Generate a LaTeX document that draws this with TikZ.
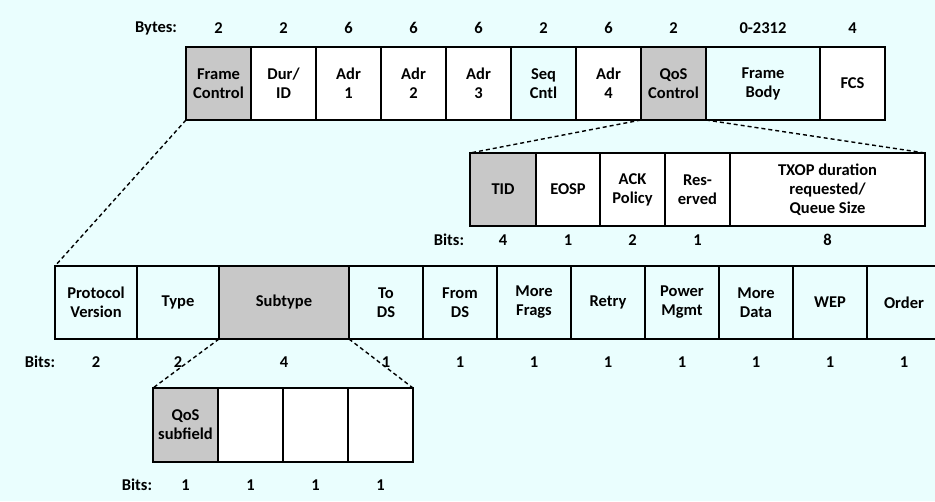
\documentclass[tikz,border=0pt]{standalone}
\usepackage{fontspec}
\setmainfont{Carlito}
\definecolor{pagebg}{RGB}{234,254,254}
\definecolor{hilite}{RGB}{200,200,200}
\tikzset{every node/.style={font=\bfseries\fontsize{16.5}{19}\selectfont},line cap=butt,line join=miter}
\tikzset{fld/.style={draw,line width=1.8pt,inner sep=0pt,outer sep=0pt,align=center,anchor=north west},
  wbox/.style={fld,fill=white},
  gbox/.style={fld,fill=hilite},
  cbox/.style={fld},
  zoomline/.style={line width=1.4pt,dash pattern=on 4pt off 3pt}}

\begin{document}
\begin{tikzpicture}[x=1pt,y=-1pt]
  \path[use as bounding box,fill=pagebg] (0,0) rectangle (935,501);
  % MAC frame
  \node[gbox,minimum width=65pt,minimum height=73pt] (fc) at (186,47) {Frame\\Control};
  \node[wbox,minimum width=65pt,minimum height=73pt] (dur) at (251,47) {Dur/\\ID};
  \node[wbox,minimum width=65pt,minimum height=73pt] (adra) at (316,47) {Adr\\1};
  \node[wbox,minimum width=65pt,minimum height=73pt] (adrb) at (381,47) {Adr\\2};
  \node[wbox,minimum width=65pt,minimum height=73pt] (adrc) at (446,47) {Adr\\3};
  \node[cbox,minimum width=65pt,minimum height=73pt] (seq) at (511,47) {Seq\\Cntl};
  \node[wbox,minimum width=65pt,minimum height=73pt] (adrd) at (576,47) {Adr\\4};
  \node[gbox,minimum width=65pt,minimum height=73pt] (qos) at (641,47) {QoS\\Control};
  \node[cbox,minimum width=114pt,minimum height=73pt] (body) at (706,47) {Frame\\Body};
  \node[wbox,minimum width=65pt,minimum height=73pt] (fcs) at (820,47) {FCS};
  \node (bytes) at (156,28) {Bytes:};
  \node (bfc) at (fc|-bytes) {2};
  \node (bdur) at (dur|-bytes) {2};
  \node (badra) at (adra|-bytes) {6};
  \node (badrb) at (adrb|-bytes) {6};
  \node (badrc) at (adrc|-bytes) {6};
  \node (bseq) at (seq|-bytes) {2};
  \node (badrd) at (adrd|-bytes) {6};
  \node (bqos) at (qos|-bytes) {2};
  \node (bbody) at (body|-bytes) {0-2312};
  \node (bfcs) at (fcs|-bytes) {4};
  % QoS control field
  \node[gbox,minimum width=66pt,minimum height=73pt] (tid) at (470,153) {TID};
  \node[wbox,minimum width=64pt,minimum height=73pt] (eosp) at (536,153) {EOSP};
  \node[wbox,minimum width=65pt,minimum height=73pt] (ack) at (600,153) {ACK\\Policy};
  \node[wbox,minimum width=65pt,minimum height=73pt] (res) at (665,153) {Res-\\erved};
  \node[wbox,minimum width=195pt,minimum height=73pt] (txop) at (730,153) {TXOP duration\\requested/\\Queue Size};
  \node (qbits) at (449,240) {Bits:};
  \node (qtid) at (tid|-qbits) {4};
  \node (qeosp) at (eosp|-qbits) {1};
  \node (qack) at (ack|-qbits) {2};
  \node (qres) at (res|-qbits) {1};
  \node (qtxop) at (txop|-qbits) {8};
  \draw[zoomline] (qos.south west) -- (tid.north west);
  \draw[zoomline] (qos.south east) -- (txop.north east);
  % frame control field
  \node[cbox,minimum width=82pt,minimum height=73pt] (pv) at (55,266) {Protocol\\Version};
  \node[cbox,minimum width=82pt,minimum height=73pt] (type) at (137,266) {Type};
  \node[gbox,minimum width=130pt,minimum height=73pt] (sub) at (219,266) {Subtype};
  \node[cbox,minimum width=74pt,minimum height=73pt] (tods) at (349,266) {To\\DS};
  \node[cbox,minimum width=74pt,minimum height=73pt] (fromds) at (423,266) {From\\DS};
  \node[cbox,minimum width=74pt,minimum height=73pt] (frags) at (497,266) {More\\Frags};
  \node[cbox,minimum width=74pt,minimum height=73pt] (retry) at (571,266) {Retry};
  \node[cbox,minimum width=74pt,minimum height=73pt] (pwr) at (645,266) {Power\\Mgmt};
  \node[cbox,minimum width=74pt,minimum height=73pt] (data) at (719,266) {More\\Data};
  \node[cbox,minimum width=74pt,minimum height=73pt] (wep) at (793,266) {WEP};
  \node[cbox,minimum width=74pt,minimum height=73pt] (order) at (867,266) {Order};
  \node (fbits) at (40,362) {Bits:};
  \node (fpv) at (pv|-fbits) {2};
  \node (ftype) at (type|-fbits) {2};
  \node (fsub) at (sub|-fbits) {4};
  \node (ftods) at (tods|-fbits) {1};
  \node (ffromds) at (fromds|-fbits) {1};
  \node (ffrags) at (frags|-fbits) {1};
  \node (fretry) at (retry|-fbits) {1};
  \node (fpwr) at (pwr|-fbits) {1};
  \node (fdata) at (data|-fbits) {1};
  \node (fwep) at (wep|-fbits) {1};
  \node (forder) at (order|-fbits) {1};
  \draw[zoomline] (fc.south west) -- (pv.north west);
  % subtype field
  \node[gbox,minimum width=65pt,minimum height=74pt] (qsub) at (153,388) {QoS\\subfield};
  \node[wbox,minimum width=65pt,minimum height=74pt] (suba) at (218,388) {};
  \node[wbox,minimum width=65pt,minimum height=74pt] (subb) at (283,388) {};
  \node[wbox,minimum width=65pt,minimum height=74pt] (subc) at (348,388) {};
  \node (sbits) at (137,485) {Bits:};
  \node (sqsub) at (qsub|-sbits) {1};
  \node (ssuba) at (suba|-sbits) {1};
  \node (ssubb) at (subb|-sbits) {1};
  \node (ssubc) at (subc|-sbits) {1};
  \draw[zoomline] (sub.south west) -- (qsub.north west);
  \draw[zoomline] (sub.south east) -- (subc.north east);
\end{tikzpicture}
\end{document}
